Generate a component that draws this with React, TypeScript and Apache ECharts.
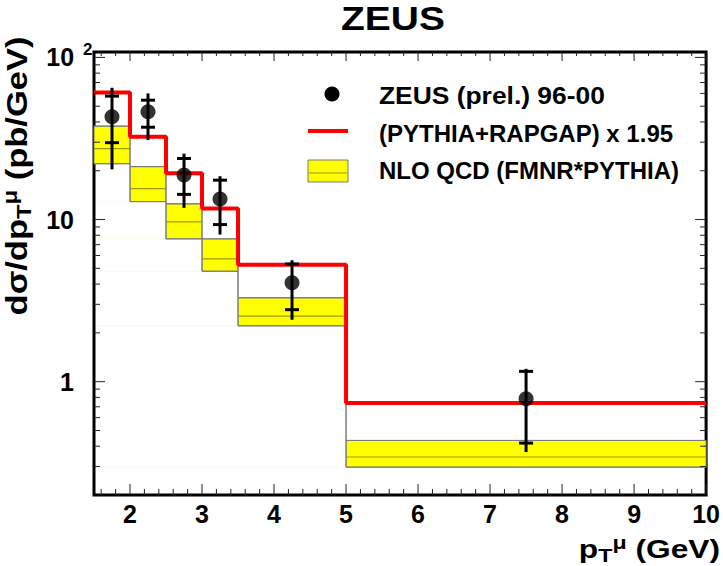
import React, { useEffect, useRef } from "react";
import * as echarts from "echarts";

// ---- data ----
const binEdges = [1.5, 2, 2.5, 3, 3.5, 5, 10];
const pythiaRapgap = [60.8, 32.4, 19.3, 11.7, 5.27, 0.738];
const nloLow = [22.1, 12.9, 7.6, 4.8, 2.21, 0.297];
const nloCentral = [27.4, 15.5, 9.68, 5.72, 2.54, 0.343];
const nloHigh = [37.7, 21.2, 12.5, 7.6, 3.29, 0.434];

const zeusX = [1.75, 2.25, 2.75, 3.25, 4.25, 7.5];
const zeusY = [43.0, 46.2, 18.8, 13.4, 4.07, 0.785];
const zeusStatLow = [29.8, 37.1, 14.3, 9.31, 2.78, 0.418];
const zeusStatHigh = [57.7, 54.5, 23.8, 17.5, 5.32, 1.158];
const zeusTotLow = [20.4, 30.9, 11.8, 8.08, 2.41, 0.368];
const zeusTotHigh = [65.0, 60.0, 25.5, 18.5, 5.61, 1.2];

const xTickLabels = [2, 3, 4, 5, 6, 7, 8, 9, 10];
const yTickLabels = [1, 10, 100];

const X_MIN = 1.5;
const X_MAX = 10;
const Y_MIN = 0.2;
const Y_MAX = 108;

const FONT = '"Liberation Sans", Arial, Helvetica, sans-serif';

// tick positions
const xTicks: number[][] = [];
for (let k = 8; k <= 50; k++) {
  const v = Math.round(k * 0.2 * 10) / 10;
  const major = Math.abs(v - Math.round(v)) < 1e-9 ? 1 : 0;
  xTicks.push([v, Y_MIN, major]);
}
const yTicks: number[][] = [];
[0.1, 1, 10, 100].forEach((dec) => {
  for (let m = 1; m <= 9; m++) {
    const v = +(m * dec).toPrecision(3);
    if (v > Y_MIN + 1e-9 && v <= Y_MAX) yTicks.push([X_MIN, v, m === 1 ? 1 : 0]);
  }
});

export default function App() {
  const ref = useRef<HTMLDivElement>(null);

  useEffect(() => {
    if (!ref.current) return;
    const chart = echarts.init(ref.current, undefined, { renderer: "svg" });

    const nBins = pythiaRapgap.length;
    const redStep = binEdges.map((e, i) => [e, pythiaRapgap[Math.min(i, nBins - 1)]]);
    const hiStep = binEdges.map((e, i) => [e, nloHigh[Math.min(i, nBins - 1)]]);
    const loStep = binEdges.map((e, i) => [e, nloLow[Math.min(i, nBins - 1)]]);
    const bandData = nloLow.map((lo, i) => [binEdges[i], binEdges[i + 1], lo, nloCentral[i], nloHigh[i]]);
    const errData = zeusX.map((x, i) => [x, zeusY[i], zeusStatLow[i], zeusStatHigh[i], zeusTotLow[i], zeusTotHigh[i]]);
    const pointData = zeusX.map((x, i) => [x, zeusY[i]]);

    const tickStyle = { stroke: "#222", lineWidth: 1 };
    const labelFont = { fontFamily: FONT, fontWeight: "bold", fontSize: 25, color: "#000" };

    const option: any = {
      animation: false,
      backgroundColor: "#fff",
      grid: {
        left: 94,
        right: 15,
        top: 52,
        bottom: 71,
        show: true,
        borderColor: "#000",
        borderWidth: 3,
        backgroundColor: "transparent",
        containLabel: false,
      },
      xAxis: {
        type: "value",
        min: X_MIN,
        max: X_MAX,
        interval: 0.5,
        axisLine: { show: false },
        axisTick: { show: false },
        splitLine: { show: false },
        axisLabel: {
          margin: 6,
          ...labelFont,
          formatter: (v: number) => {
            const r = Math.round(v);
            return Math.abs(v - r) < 1e-6 && xTickLabels.indexOf(r) >= 0 ? String(r) : "";
          },
        },
      },
      yAxis: {
        type: "log",
        logBase: 10,
        min: Y_MIN,
        max: Y_MAX,
        axisLine: { show: false },
        axisTick: { show: false },
        splitLine: { show: false },
        axisLabel: {
          margin: 1.5,
          color: "#000",
          formatter: (v: number) => {
            const found = yTickLabels.find((t) => Math.abs(t - v) / t < 1e-6);
            if (found === undefined) return "";
            if (found === 100) return "{b|10}{s|2}";
            return "{bp|" + found + "}";
          },
          rich: {
            b: { ...labelFont },
            bp: { ...labelFont, padding: [0, 18.5, 0, 0] },
            s: { ...labelFont, fontSize: 17, padding: [0, 0, 16, 9] },
          },
        },
      },
      series: [
        // NLO QCD bands
        {
          type: "custom",
          z: 2,
          silent: true,
          data: bandData,
          encode: { x: [0, 1], y: [2, 3, 4] },
          renderItem: (params: any, api: any) => {
            const x0 = api.value(0), x1 = api.value(1);
            const lo = api.value(2), c = api.value(3), hi = api.value(4);
            const pTL = api.coord([x0, hi]);
            const pBR = api.coord([x1, lo]);
            const pC = api.coord([x0, c]);
            const cs = params.coordSys;
            return {
              type: "group",
              children: [
                {
                  type: "line",
                  shape: { x1: cs.x + 2, y1: pBR[1], x2: pTL[0], y2: pBR[1] },
                  style: { stroke: "#fdfbe2", lineWidth: 1 },
                },
                {
                  type: "rect",
                  shape: { x: pTL[0], y: pTL[1], width: pBR[0] - pTL[0], height: pBR[1] - pTL[1] },
                  style: { fill: "#ffff00", stroke: "#7a7a7a", lineWidth: 1 },
                },
                {
                  type: "line",
                  shape: { x1: pTL[0], y1: pC[1], x2: pBR[0], y2: pC[1] },
                  style: { stroke: "#9c9c00", lineWidth: 1.2 },
                },
              ],
            };
          },
        },
        {
          type: "line",
          z: 3,
          step: "end",
          silent: true,
          showSymbol: false,
          data: hiStep,
          lineStyle: { color: "#7a7a7a", width: 1 },
        },
        {
          type: "line",
          z: 3,
          step: "end",
          silent: true,
          showSymbol: false,
          data: loStep,
          lineStyle: { color: "#7a7a7a", width: 1 },
        },
        // PYTHIA+RAPGAP histogram
        {
          type: "line",
          z: 4,
          step: "end",
          silent: true,
          showSymbol: false,
          data: redStep,
          lineStyle: { color: "#ff0000", width: 4 },
        },
        // ZEUS error bars
        {
          type: "custom",
          z: 5,
          silent: true,
          data: errData,
          encode: { x: 0, y: [1, 2, 3, 4, 5] },
          renderItem: (params: any, api: any) => {
            const x = api.value(0);
            const sLo = api.coord([x, api.value(2)]);
            const sHi = api.coord([x, api.value(3)]);
            const tLo = api.coord([x, api.value(4)]);
            const tHi = api.coord([x, api.value(5)]);
            const st = { stroke: "#000", lineWidth: 3 };
            const hw = 7;
            return {
              type: "group",
              children: [
                { type: "line", shape: { x1: tLo[0], y1: tLo[1], x2: tHi[0], y2: tHi[1] }, style: st },
                { type: "line", shape: { x1: sLo[0] - hw, y1: sLo[1], x2: sLo[0] + hw, y2: sLo[1] }, style: st },
                { type: "line", shape: { x1: sHi[0] - hw, y1: sHi[1], x2: sHi[0] + hw, y2: sHi[1] }, style: st },
              ],
            };
          },
        },
        {
          type: "scatter",
          z: 6,
          silent: true,
          data: pointData,
          symbol: "circle",
          symbolSize: 15,
          itemStyle: { color: "#000" },
        },
        // x ticks (bottom and top)
        {
          type: "custom",
          z: 7,
          silent: true,
          data: xTicks,
          encode: { x: 0, y: 1 },
          renderItem: (params: any, api: any) => {
            const p = api.coord([api.value(0), Y_MIN]);
            const len = api.value(2) === 1 ? 11 : 6;
            const cs = params.coordSys;
            const top = cs.y, bottom = cs.y + cs.height;
            return {
              type: "group",
              children: [
                { type: "line", shape: { x1: p[0], y1: bottom, x2: p[0], y2: bottom - len }, style: tickStyle },
                { type: "line", shape: { x1: p[0], y1: top, x2: p[0], y2: top + (len - 2) }, style: tickStyle },
              ],
            };
          },
        },
        // y ticks (left and right)
        {
          type: "custom",
          z: 7,
          silent: true,
          data: yTicks,
          encode: { x: 0, y: 1 },
          renderItem: (params: any, api: any) => {
            const p = api.coord([X_MIN, api.value(1)]);
            const len = api.value(2) === 1 ? 11 : 6;
            const cs = params.coordSys;
            const left = cs.x, right = cs.x + cs.width;
            return {
              type: "group",
              children: [
                { type: "line", shape: { x1: left, y1: p[1], x2: left + len, y2: p[1] }, style: tickStyle },
                { type: "line", shape: { x1: right, y1: p[1], x2: right - len, y2: p[1] }, style: tickStyle },
              ],
            };
          },
        },
      ],
      graphic: [
        {
          type: "text",
          x: 393,
          y: 18.5,
          scaleX: 1.18,
          style: {
            text: "ZEUS",
            fill: "#000",
            fontFamily: FONT,
            fontWeight: "bold",
            fontSize: 33,
            align: "center",
            verticalAlign: "middle",
            textAlign: "center",
            textVerticalAlign: "middle",
          },
        },
        // y-axis title
        {
          type: "text",
          x: 17,
          y: 176,
          rotation: Math.PI / 2,
          scaleX: 1.19,
          style: {
            text: "{a|dσ/dp}{sub|T}{sup|μ}{a| (pb/GeV)}",
            align: "center",
            verticalAlign: "middle",
            textAlign: "center",
            textVerticalAlign: "middle",
            fill: "#000",
            rich: {
              a: { fontFamily: FONT, fontWeight: "bold", fontSize: 29, fill: "#000", color: "#000" },
              sub: { fontFamily: FONT, fontWeight: "bold", fontSize: 20, fill: "#000", color: "#000", padding: [14, 0, 0, 0] },
              sup: { fontFamily: FONT, fontWeight: "bold", fontSize: 20, fill: "#000", color: "#000", padding: [0, 0, 14, 0] },
            },
          },
        },
        // x-axis title
        {
          type: "text",
          x: 720,
          y: 549,
          scaleX: 1.22,
          style: {
            text: "{a|p}{sub|T}{sup|μ}{a| (GeV)}",
            align: "right",
            verticalAlign: "middle",
            textAlign: "right",
            textVerticalAlign: "middle",
            fill: "#000",
            rich: {
              a: { fontFamily: FONT, fontWeight: "bold", fontSize: 26, fill: "#000", color: "#000" },
              sub: { fontFamily: FONT, fontWeight: "bold", fontSize: 19, fill: "#000", color: "#000", padding: [12, 0, 0, 0] },
              sup: { fontFamily: FONT, fontWeight: "bold", fontSize: 19, fill: "#000", color: "#000", padding: [0, 0, 14, 0] },
            },
          },
        },
        // legend
        { type: "circle", shape: { cx: 332, cy: 94, r: 7.5 }, style: { fill: "#000" } },
        { type: "line", shape: { x1: 308, y1: 131, x2: 348, y2: 131 }, style: { stroke: "#ff0000", lineWidth: 4 } },
        { type: "rect", shape: { x: 308, y: 160, width: 40, height: 22 }, style: { fill: "#ffff00", stroke: "#7a7a7a", lineWidth: 1 } },
        { type: "line", shape: { x1: 308, y1: 173, x2: 348, y2: 173 }, style: { stroke: "#9c9c00", lineWidth: 1.2 } },
        ...[
          ["ZEUS (prel.) 96-00", 95, 1.1],
          ["(PYTHIA+RAPGAP) x 1.95", 133, 1.0],
          ["NLO QCD (FMNR*PYTHIA)", 170, 1.0],
        ].map(([t, y, sx]) => ({
          type: "text",
          x: 379,
          y: y as number,
          scaleX: sx as number,
          style: {
            text: t as string,
            fill: "#000",
            fontFamily: FONT,
            fontWeight: "bold",
            fontSize: 24,
            align: "left",
            verticalAlign: "middle",
            textAlign: "left",
            textVerticalAlign: "middle",
          },
        })),
      ],
    };

    chart.setOption(option);
    return () => chart.dispose();
  }, []);

  return (
    <div
      ref={ref}
      style={{ position: "fixed", left: 0, top: 0, width: 723, height: 566, background: "#fff" }}
    />
  );
}
